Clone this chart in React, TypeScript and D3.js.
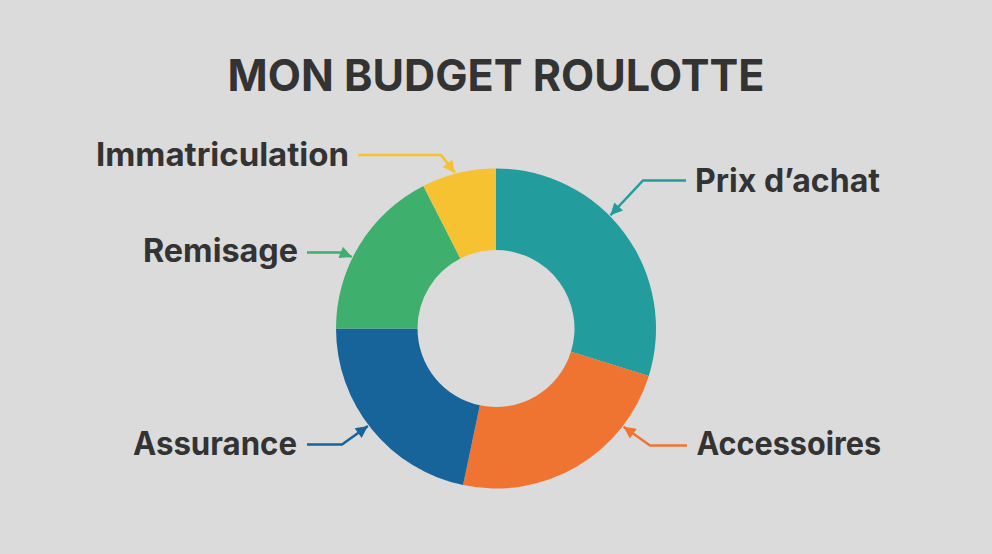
import React, { useEffect, useRef } from "react";
import * as d3 from "d3";

const categories = ["Prix d’achat", "Accessoires", "Assurance", "Remisage", "Immatriculation"];
const values = [29.8, 23.5, 21.7, 17.5, 7.5];
const colors = ["#229C9D", "#EF7431", "#17649B", "#3EAF6D", "#F6C231"];
const title = "MON BUDGET ROULOTTE";

// label layout (annotation positions)
const labelX = [695, 696.5, 133, 143, 96];
const labelY = [192, 455, 454.5, 262, 166];
const labelW = [185, 184.5, 164, 155, 253];
const leaderStart: [number, number][] = [[686, 180.5], [687, 445.5], [307, 444.5], [307, 252.5], [358, 155]];
const leaderElbow: [number, number][] = [[643, 180.5], [650, 445.5], [342, 444.5], [341, 252.5], [441, 155]];
const tipAngleDeg = [45.3, 127.6, 232.7, 296.4, 345.2];

const W = 992, H = 554;
const cx = 496, cy = 328.5;
const outerR = 160, innerR = 78.5;

export default function App() {
  const ref = useRef<SVGSVGElement>(null);
  useEffect(() => {
    document.body.style.margin = "0";
    const svg = d3.select(ref.current);
    svg.selectAll("*").remove();
    svg.append("rect").attr("width", W).attr("height", H).attr("fill", "#DBDBDB");

    const defs = svg.append("defs");
    colors.forEach((c, i) => {
      defs.append("marker")
        .attr("id", "arr" + i)
        .attr("viewBox", "0 0 10 10")
        .attr("refX", 10).attr("refY", 5)
        .attr("markerWidth", 13).attr("markerHeight", 12)
        .attr("markerUnits", "userSpaceOnUse")
        .attr("orient", "auto")
        .append("path").attr("d", "M0,0 L10,5 L0,10 Z").attr("fill", c);
    });

    svg.append("text")
      .attr("x", cx).attr("y", 91)
      .attr("text-anchor", "middle")
      .attr("font-family", "Inter, 'Open Sans', sans-serif")
      .attr("font-weight", 700)
      .attr("font-size", 44)
      .attr("fill", "#333333")
      .attr("textLength", 537)
      .attr("lengthAdjust", "spacingAndGlyphs")
      .text(title);

    const pie = d3.pie<number>().sort(null).value(d => d);
    const arc = d3.arc<d3.PieArcDatum<number>>().innerRadius(innerR).outerRadius(outerR);
    const g = svg.append("g").attr("transform", `translate(${cx},${cy})`);
    g.selectAll("path.slice").data(pie(values)).join("path")
      .attr("class", "slice")
      .attr("d", arc)
      .attr("fill", (_, i) => colors[i]);

    const line = d3.line();
    categories.forEach((name, i) => {
      const a = (tipAngleDeg[i] * Math.PI) / 180;
      const tip: [number, number] = [cx + (outerR + 1) * Math.sin(a), cy - (outerR + 1) * Math.cos(a)];
      svg.append("path")
        .attr("d", line([leaderStart[i], leaderElbow[i], tip]))
        .attr("fill", "none")
        .attr("stroke", colors[i])
        .attr("stroke-width", 2.5)
        .attr("marker-end", `url(#arr${i})`);
      svg.append("text")
        .attr("x", labelX[i]).attr("y", labelY[i])
        .attr("font-family", "Inter, 'Open Sans', sans-serif")
        .attr("font-weight", 700)
        .attr("font-size", 32)
        .attr("fill", "#333333")
        .attr("textLength", labelW[i])
        .attr("lengthAdjust", "spacingAndGlyphs")
        .text(name);
    });
  }, []);
  return (
    <div style={{ position: "absolute", left: 0, top: 0 }}>
      <svg ref={ref} width={W} height={H} style={{ display: "block" }} />
    </div>
  );
}
